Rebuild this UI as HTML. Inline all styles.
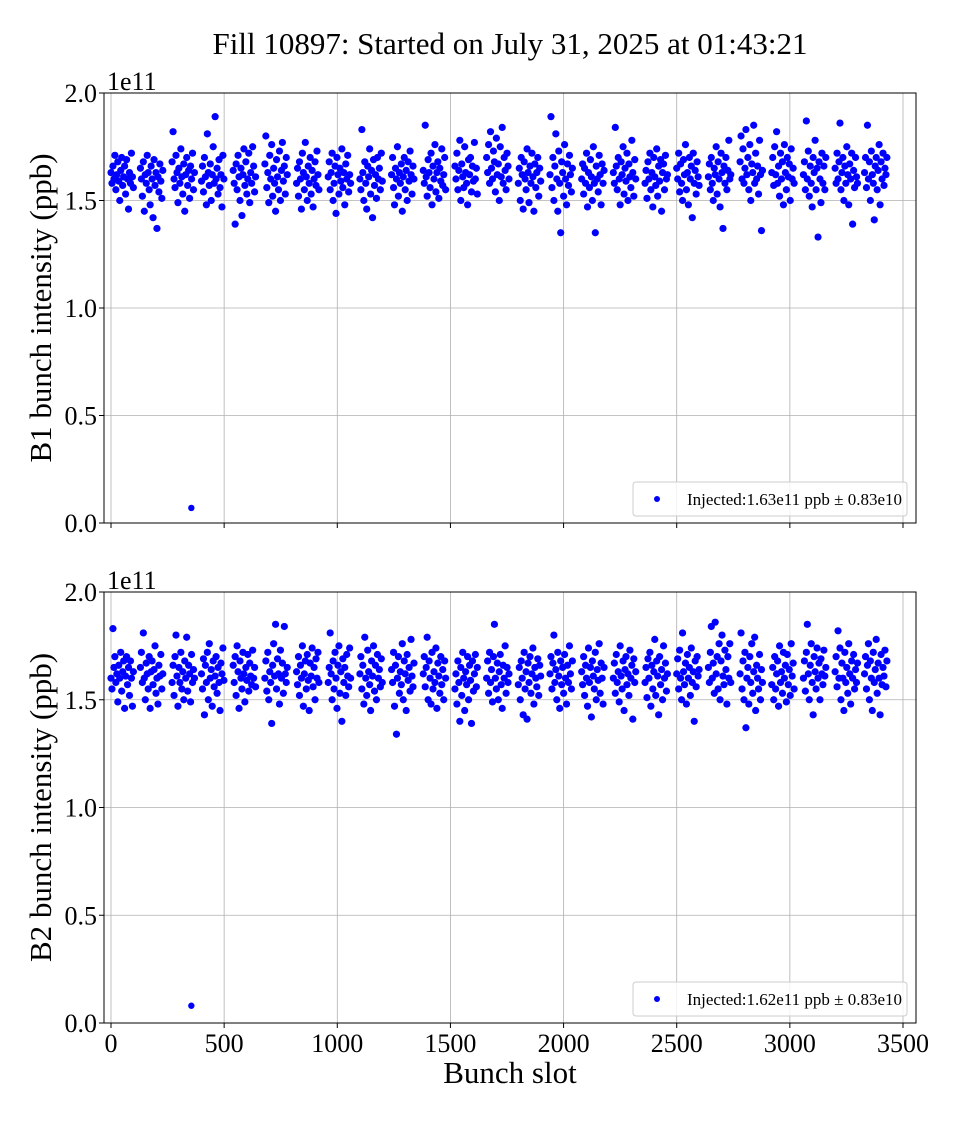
<!DOCTYPE html>
<html><head><meta charset="utf-8"><style>
body{margin:0;background:#fff;}
svg text{font-family:"Liberation Serif",serif;fill:#000;}
</style></head><body>
<svg id="chart" width="960" height="1120" viewBox="0 0 960 1120" xmlns="http://www.w3.org/2000/svg">
<text x="510" y="54" font-size="31" text-anchor="middle">Fill 10897: Started on July 31, 2025 at 01:43:21</text>
<g id="p1"></g>
<g id="p2"></g>
<text x="510" y="1083" font-size="31" text-anchor="middle">Bunch slot</text>
</svg>
<script>
const xTicks=[0,500,1000,1500,2000,2500,3000,3500];
const yTicks=[0.0,0.5,1.0,1.5,2.0];
const trainStarts=[0,130,270,400,540,680,820,960,1100,1240,1380,1520,1660,1800,1940,2080,2220,2360,2500,2640,2780,2920,3060,3200,3330];
const bunchSpacing=4.3;
const b1Values=[
163,158,166,160,171,155,162,168,159,150,164,170,157,161,166,153,169,160,146,163,158,172,161,156,
165,160,152,168,145,162,158,171,163,155,148,166,160,142,169,157,163,137,161,154,167,159,151,164,
168,182,160,156,171,163,149,165,158,174,161,153,167,145,162,170,157,164,151,166,160,172,155,163,
159,166,154,170,161,148,181,163,157,167,150,162,175,158,189,160,165,153,169,156,162,147,171,160,
164,158,139,167,155,171,161,150,165,143,162,174,157,168,153,160,172,149,163,158,175,166,154,161,
167,180,156,163,149,171,160,176,152,165,158,145,169,161,155,173,150,164,177,159,166,153,170,162,
158,165,152,168,160,146,172,163,155,177,161,150,166,158,170,153,164,147,160,168,157,173,162,155,
161,168,155,163,172,150,158,166,144,170,162,153,165,159,174,156,163,148,167,160,171,154,162,158,
160,155,183,163,150,168,158,146,166,161,174,153,164,142,169,157,162,151,170,160,165,155,172,159,
162,170,156,148,165,160,175,152,163,158,167,145,161,170,155,164,150,168,159,173,162,153,166,160,
164,158,185,161,152,169,163,156,172,148,166,160,176,154,163,168,151,165,159,174,157,162,170,155,
166,160,172,155,164,178,150,167,161,156,175,163,158,148,169,162,170,154,166,159,177,160,165,153,
170,163,176,158,182,165,160,173,168,154,179,162,167,150,175,161,184,158,170,164,155,172,166,160,
158,165,150,170,162,146,168,160,155,174,163,149,166,158,172,161,145,167,156,163,170,152,165,159,
162,189,156,170,150,166,181,160,145,173,158,135,168,163,152,176,160,148,167,157,171,162,154,165,
160,167,153,165,158,172,147,163,156,169,161,150,175,158,135,166,160,154,171,162,148,167,158,164,
163,158,184,166,155,170,160,148,168,162,175,153,165,159,172,150,167,161,156,178,163,152,169,160,
158,164,151,168,160,172,155,163,147,170,161,157,174,152,166,159,169,145,163,167,155,171,160,162,
165,160,172,154,167,158,150,169,162,176,155,163,148,170,160,166,142,172,158,164,153,168,161,157,
161,167,155,170,158,150,165,162,175,153,168,160,147,172,163,137,166,158,170,155,164,178,160,162,
168,180,160,174,158,165,183,162,170,155,176,150,167,163,185,158,172,160,166,153,178,162,136,164,
163,170,157,175,162,182,158,166,152,172,160,168,148,176,163,155,170,161,167,150,174,160,165,158,
162,168,155,187,160,173,152,166,158,147,170,163,178,155,165,133,168,160,149,172,158,166,155,170,
165,158,172,160,168,186,155,163,170,150,166,158,175,162,148,167,160,172,139,164,156,170,161,158,
163,170,156,185,160,168,150,173,162,158,141,166,170,155,164,176,148,168,160,172,157,165,162,170];
const b2Values=[
160,155,183,165,170,158,162,149,166,160,172,154,163,168,146,161,170,157,165,152,168,160,147,163,
165,172,158,181,160,150,167,162,155,170,146,163,168,157,164,175,153,160,148,166,161,171,155,162,
158,166,152,170,180,161,147,165,158,172,155,163,150,168,160,179,154,166,162,149,171,158,164,160,
162,155,169,143,166,158,172,150,176,160,164,147,168,156,161,170,153,165,158,145,167,162,174,159,
166,158,170,152,175,163,146,168,160,155,172,162,149,165,159,171,154,167,161,157,173,160,165,156,
160,168,154,172,150,163,158,139,166,176,161,185,155,169,162,148,173,160,167,153,184,162,158,165,
163,157,170,152,166,160,175,147,162,168,155,171,159,145,167,161,174,156,165,150,169,160,172,158,
158,165,181,162,150,168,155,172,160,146,166,175,153,163,140,169,158,165,152,171,161,156,174,160,
162,170,155,166,148,179,160,152,173,163,157,145,168,161,175,154,166,150,171,160,164,156,169,158,
164,158,172,147,166,134,160,170,153,163,157,176,150,168,162,145,171,159,165,154,178,161,156,167,
162,170,156,165,179,150,168,160,148,172,155,163,158,174,146,167,161,153,170,157,164,150,168,160,
155,162,148,168,158,140,165,152,172,160,145,163,157,170,150,166,159,139,168,154,162,171,156,165,
160,168,153,172,158,164,149,170,185,160,155,167,150,163,171,157,146,166,160,175,153,165,158,162,
157,165,150,168,160,143,172,155,163,141,167,158,170,153,162,174,148,165,160,156,169,152,166,161,
162,170,155,167,180,158,164,150,172,161,146,168,157,165,153,171,160,148,166,158,175,162,155,168,
163,157,170,152,166,160,147,174,158,165,142,168,161,155,172,150,164,159,176,153,167,160,148,165,
160,167,153,171,158,163,149,175,161,155,168,145,164,170,157,162,152,173,160,166,141,169,158,163,
158,165,151,169,160,172,147,166,155,163,178,152,168,161,143,170,157,164,150,175,160,167,154,162,
162,169,155,173,160,150,181,163,157,167,148,171,160,165,152,174,158,163,140,168,156,170,161,164,
165,158,172,184,160,167,153,186,162,170,155,176,150,168,180,161,157,173,164,148,170,160,176,158,
162,181,155,168,150,172,137,160,165,148,170,158,176,153,163,179,145,166,160,155,171,150,164,158,
157,165,150,170,155,162,168,147,175,158,163,153,172,160,166,149,171,157,164,152,176,161,167,155,
160,168,154,172,185,162,150,166,176,158,143,170,163,155,174,160,167,150,169,162,157,173,161,165,
163,170,156,182,160,174,150,167,160,145,172,158,165,153,176,162,148,168,160,171,155,164,158,167,
162,170,155,166,176,150,168,160,145,172,158,164,178,153,167,160,143,171,157,165,161,173,156,168];
const b1OutlierSlots=[355];
const b1OutlierValues=[7];
const b2OutlierSlots=[355];
const b2OutlierValues=[8];
const legendLabels=["Injected:1.63e11 ppb \u00b1 0.83e10","Injected:1.62e11 ppb \u00b1 0.83e10"];
const yTitles=["B1 bunch intensity (ppb)","B2 bunch intensity (ppb)"];

const NS="http://www.w3.org/2000/svg";
const L=104,R=916;
function xs(s){return 111+s*(792/3500);}
function mk(p,tag,attrs){const e=document.createElementNS(NS,tag);for(const k in attrs)e.setAttribute(k,attrs[k]);p.appendChild(e);return e;}

function panel(g,top,bot,values,oSlots,oVals,idx){
  const ys=v=>bot-(v/2.0)*(bot-top);
  for(const t of xTicks){
    const l=mk(g,'line',{x1:xs(t),x2:xs(t),y1:top,y2:bot,stroke:'#b0b0b0','stroke-width':0.8});
    
    
    const tk=mk(g,'line',{x1:xs(t),x2:xs(t),y1:bot,y2:bot+5,stroke:'#000','stroke-width':1});
    
    
    if(idx===1){
      const tx=mk(g,'text',{x:xs(t),y:bot+29,'font-size':26,'text-anchor':'middle'});
      tx.textContent=t;
      
      
    }
  }
  for(const t of yTicks){
    const y=ys(t);
    const l=mk(g,'line',{x1:L,x2:R,y1:y,y2:y,stroke:'#b0b0b0','stroke-width':0.8});
    
    
    const tk=mk(g,'line',{x1:L-5,x2:L,y1:y,y2:y,stroke:'#000','stroke-width':1});
    
    
    const tx=mk(g,'text',{x:L-7,y:y+9,'font-size':26,'text-anchor':'end'});
    tx.textContent=t.toFixed(1);
    
    
  }
  const off=mk(g,'text',{x:L+3,y:top-3,'font-size':26});
  off.textContent='1e11';
  
  
  const yt=mk(g,'text',{x:0,y:0,'font-size':31,'text-anchor':'middle',transform:`translate(51,${(top+bot)/2}) rotate(-90)`});
  yt.textContent=yTitles[idx];
  
  
  const pg=mk(g,'g',{fill:'#0000ff'});
  
  
  const per=values.length/trainStarts.length;
  values.forEach((v,i)=>{
    const tr=Math.floor(i/per),j=i%per;
    const s=trainStarts[tr]+j*bunchSpacing;
    const c=mk(pg,'circle',{cx:xs(s),cy:ys(v/100),r:3.6});
    
    
  });
  oSlots.forEach((s,i)=>{
    const c=mk(pg,'circle',{cx:xs(s),cy:ys(oVals[i]/100),r:3.2});
    
    
  });
  const fr=mk(g,'rect',{x:L,y:top,width:R-L,height:bot-top,fill:'none',stroke:'#000','stroke-width':1});
  
  
  const lg=mk(g,'g',{});
  
  
  mk(lg,'rect',{x:633,y:bot-41,width:274,height:34,rx:3,fill:'#fff','fill-opacity':0.8,stroke:'#ccc','stroke-width':1});
  mk(lg,'circle',{cx:657,cy:bot-24,r:3,fill:'#0000ff'});
  const lt=mk(lg,'text',{x:687,y:bot-18,'font-size':17});
  lt.textContent=legendLabels[idx];
  
  
}
panel(document.getElementById('p1'),93,523,b1Values,b1OutlierSlots,b1OutlierValues,0);
panel(document.getElementById('p2'),592,1023,b2Values,b2OutlierSlots,b2OutlierValues,1);
</script>
</body></html>
